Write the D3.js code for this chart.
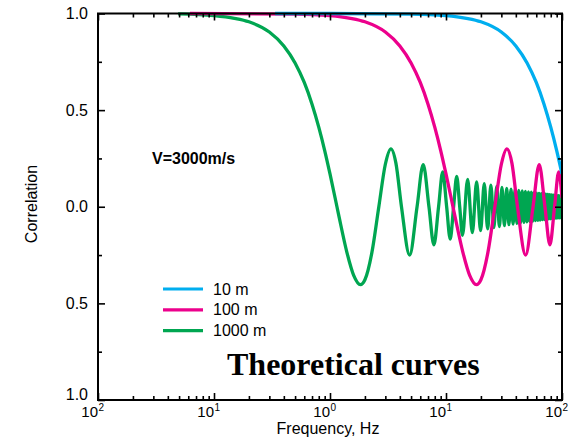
<!DOCTYPE html>
<html><head><meta charset="utf-8">
<script src="https://cdn.jsdelivr.net/npm/d3@7"></script>
<style>body{margin:0;background:#fff}svg{display:block}</style>
</head><body><svg id="c" width="586" height="448"></svg>
<script>
// ---- data ----
const xMajor = [0.01, 0.1, 1, 10, 100];
const xExponents = ["2", "1", "0", "1", "2"];
const yMajor = [1, 0.5, 0, -0.5, -1];
const yMinor = [0.75, 0.25, -0.25, -0.75];
const yTickLabels = ["1.0", "0.5", "0.0", "0.5", "1.0"];
const seriesNames = ["10 m", "100 m", "1000 m"];
const seriesColors = ["#00AEEF", "#EC008C", "#00A651"];

const curve10m = [[0.336,1.0],[1,1.0],[5,0.997],[10,0.989],[15,0.975],[20,0.957],[30,0.904],[40,0.832],[50,0.744],[60,0.643],[70,0.531],[80,0.412],[90,0.291],[100,0.170]];

const curve100m = [[0.062,1.0],[0.5,0.997],[1,0.989],[1.5,0.975],[2,0.957],[3,0.904],[4,0.832],[5,0.744],[6,0.643],[7,0.531],[8,0.412],[9,0.291],[10,0.170],[11.48,0],[12,-0.055],[14,-0.237],[16,-0.355],[18.3,-0.403],[20,-0.378],[23,-0.235],[26.36,0],[30,0.220],[33.5,0.300],[37,0.226],[41.32,0],[48.57,-0.250],[56.3,0],[63.6,0.218],[71.29,0],[78.64,-0.197],[86.28,0],[93.66,0.180],[100,0.045]];

const curve1000m = [[0.049,0.998],[0.1,0.989],[0.15,0.975],[0.2,0.957],[0.3,0.904],[0.4,0.832],[0.5,0.744],[0.6,0.643],[0.7,0.531],[0.8,0.412],[0.9,0.291],[1.0,0.170],[1.148,0],[1.2,-0.055],[1.4,-0.237],[1.6,-0.355],[1.83,-0.403],[2.0,-0.378],[2.3,-0.235],[2.636,0],[3.0,0.220],[3.35,0.300],[3.7,0.226],[4.132,0],[4.86,-0.250],[5.63,0],[6.36,0.218],[7.13,0],[7.86,-0.197],[8.63,0],[9.37,0.180],[10.13,0],[10.87,-0.167],[11.63,0],[12.37,0.157],[13.13,0],[13.87,-0.148],[15.37,0.141],[16.87,-0.134],[18.37,0.129],[19.87,-0.124],[21.37,0.119],[22.87,-0.115],[24.37,0.112],[25.87,-0.108],[27.37,0.105],[28.87,-0.103],[30.37,0.100],[31.87,-0.098],[33.37,0.095],[34.87,-0.093],[36.37,0.091],[37.87,-0.090],[39.37,0.088],[40.87,-0.086],[42.37,0.085],[43.87,-0.083],[45.37,0.082],[46.87,-0.081],[48.37,0.079],[49.87,-0.078],[51.37,0.077],[52.87,-0.076],[54.37,0.075],[55.87,-0.074],[57.37,0.073],[58.87,-0.072],[60.37,0.071],[61.87,-0.070],[63.37,0.069],[64.87,-0.069],[66.37,0.068],[67.87,-0.067],[69.37,0.066],[70.87,-0.066],[72.37,0.065],[73.87,-0.064],[75.37,0.064],[76.87,-0.063],[78.37,0.062],[79.87,-0.062],[81.37,0.061],[82.87,-0.061],[84.37,0.060],[85.87,-0.060],[87.37,0.059],[88.87,-0.059],[90.37,0.058],[91.87,-0.058],[93.37,0.057],[94.87,-0.057],[96.37,0.056],[97.87,-0.056],[99.37,0.055],[100,0.014]];

const seriesData = [curve10m, curve100m, curve1000m];

// ---- layout ----
const L = 98, R = 562, T = 13.5, B = 400;
const svg = d3.select("#c");
const x = d3.scaleLog().domain([0.01, 100]).range([L, R]);
const y = d3.scaleLinear().domain([-1, 1]).range([B, T]);
const font = "'Liberation Sans', Arial, Helvetica, sans-serif";

// curves (green first, cyan last)
const line = d3.line().x(d => x(d[0])).y(d => y(d[1])).curve(d3.curveMonotoneX);
svg.append("clipPath").attr("id", "pc").append("rect")
  .attr("x", L).attr("y", T - 3).attr("width", R - L).attr("height", B - T + 3);
[2, 1, 0].forEach(i => {
  svg.append("path").datum(seriesData[i]).attr("d", line)
    .attr("fill", "none").attr("stroke", seriesColors[i]).attr("stroke-width", 3.3)
    .attr("stroke-linejoin", "round").attr("clip-path", "url(#pc)");
});

// axes
const xMinor = x.ticks().filter(v => !xMajor.some(m => Math.abs(m - v) < 1e-9));
function styleAxis(g) {
  g.select(".domain").remove();
  g.selectAll("line").attr("stroke", "#000").attr("stroke-width", 1.6);
}
svg.append("g").attr("transform", `translate(0,${B})`)
  .call(d3.axisBottom(x).tickValues(xMajor).tickSize(-7).tickFormat(() => "")).call(styleAxis);
svg.append("g").attr("transform", `translate(0,${B})`)
  .call(d3.axisBottom(x).tickValues(xMinor).tickSize(-4).tickFormat(() => "")).call(styleAxis);
svg.append("g").attr("transform", `translate(0,${T})`)
  .call(d3.axisTop(x).tickValues(xMajor).tickSize(-7).tickFormat(() => "")).call(styleAxis);
svg.append("g").attr("transform", `translate(0,${T})`)
  .call(d3.axisTop(x).tickValues(xMinor).tickSize(-4).tickFormat(() => "")).call(styleAxis);

const yAx = svg.append("g").attr("transform", `translate(${L},0)`)
  .call(d3.axisLeft(y).tickValues(yMajor).tickSize(-7).tickPadding(10)
    .tickFormat((d, i) => yTickLabels[i])).call(styleAxis);
yAx.selectAll("text").attr("font-family", font).attr("font-size", 16).attr("fill", "#000")
  .attr("dy", d => d === -1 ? "-0.05em" : "0.32em");
svg.append("g").attr("transform", `translate(${L},0)`)
  .call(d3.axisLeft(y).tickValues(yMinor).tickSize(-4).tickFormat(() => "")).call(styleAxis);
svg.append("g").attr("transform", `translate(${R},0)`)
  .call(d3.axisRight(y).tickValues(yMajor).tickSize(-7).tickFormat(() => "")).call(styleAxis);
svg.append("g").attr("transform", `translate(${R},0)`)
  .call(d3.axisRight(y).tickValues(yMinor).tickSize(-4).tickFormat(() => "")).call(styleAxis);

// frame
svg.append("rect").attr("x", L).attr("y", T).attr("width", R - L).attr("height", B - T)
  .attr("fill", "none").attr("stroke", "#000").attr("stroke-width", 2);

// x tick labels with superscripts
xMajor.forEach((v, i) => {
  svg.append("text").attr("font-family", font).attr("fill", "#000").attr("font-size", 15)
    .attr("x", x(v)).attr("y", B + 17).attr("text-anchor", "end").text("10");
  svg.append("text").attr("font-family", font).attr("fill", "#000").attr("font-size", 10)
    .attr("x", x(v) + 0.5).attr("y", B + 11).text(xExponents[i]);
});

// axis titles
svg.append("text").attr("x", 328).attr("y", 434).attr("text-anchor", "middle")
  .attr("font-family", font).attr("font-size", 16).text("Frequency, Hz");
svg.append("text").attr("transform", "translate(37,204) rotate(-90)").attr("text-anchor", "middle")
  .attr("font-family", font).attr("font-size", 16).text("Correlation");

// annotations
svg.append("text").attr("x", 152).attr("y", 164).attr("font-family", font)
  .attr("font-size", 16).attr("font-weight", "bold").text("V=3000m/s");
svg.append("text").attr("x", 227).attr("y", 375).attr("font-family", "'Liberation Serif', 'Times New Roman', serif")
  .attr("font-size", 32).attr("font-weight", "bold").text("Theoretical curves");

// legend
seriesNames.forEach((n, i) => {
  const yy = 289 + i * 20.8;
  svg.append("line").attr("x1", 163).attr("x2", 203).attr("y1", yy).attr("y2", yy)
    .attr("stroke", seriesColors[i]).attr("stroke-width", 3.2);
  svg.append("text").attr("x", 213).attr("y", yy + 5.5).attr("font-family", font)
    .attr("font-size", 16).text(n);
});
</script></body></html>
